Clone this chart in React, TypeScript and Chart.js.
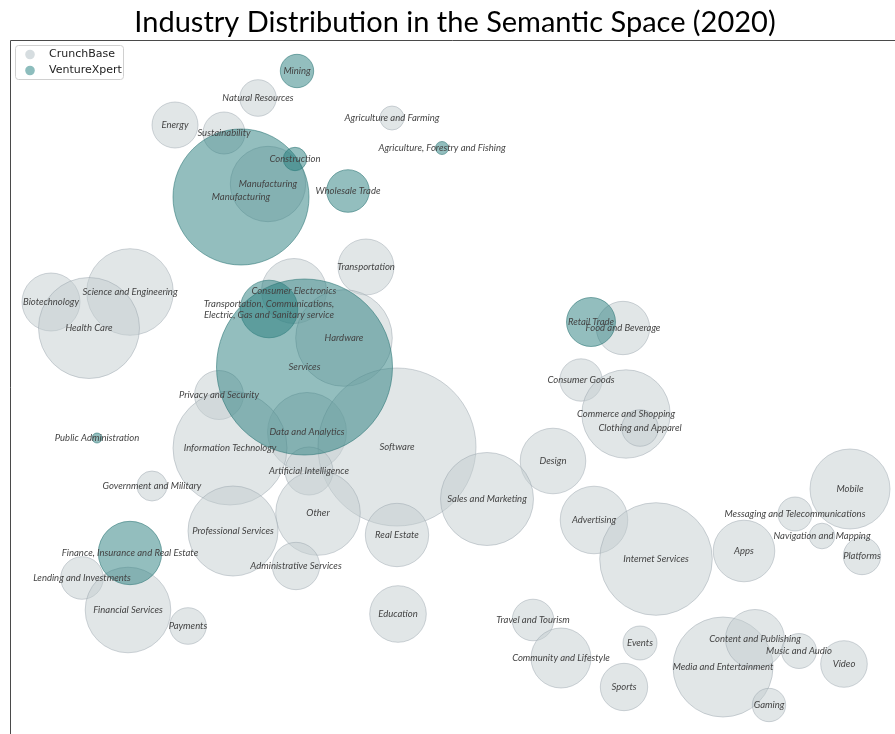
import React, { useEffect, useRef } from "react";
import { Chart, registerables } from "chart.js";

Chart.register(...registerables);

const TITLE = "Industry Distribution in the Semantic Space (2020)";
const SERIES = ["CrunchBase", "VentureXpert"];

// CrunchBase industries (semantic-space coordinates, bubble radius)
const cbNames = [
  "Natural Resources", "Energy", "Sustainability", "Agriculture and Farming", "Manufacturing",
  "Transportation", "Biotechnology", "Science and Engineering", "Health Care", "Consumer Electronics",
  "Hardware", "Privacy and Security", "Data and Analytics", "Software", "Information Technology",
  "Artificial Intelligence", "Government and Military", "Other", "Professional Services", "Real Estate",
  "Lending and Investments", "Administrative Services", "Financial Services", "Payments", "Education",
  "Food and Beverage", "Consumer Goods", "Commerce and Shopping", "Clothing and Apparel", "Design",
  "Mobile", "Sales and Marketing", "Advertising", "Internet Services", "Apps",
  "Messaging and Telecommunications", "Navigation and Mapping", "Platforms", "Travel and Tourism", "Community and Lifestyle",
  "Events", "Sports", "Media and Entertainment", "Content and Publishing", "Music and Audio",
  "Video", "Gaming",
];
const cbX = [
  24.8, 16.5, 21.4, 38.2, 25.8,
  35.6, 4.1, 12.0, 7.9, 28.4,
  33.4, 20.9, 29.7, 38.7, 22.0,
  29.9, 14.2, 30.8, 22.3, 38.7,
  7.2, 28.6, 11.8, 17.8, 38.8,
  61.3, 57.1, 61.6, 63.0, 54.3,
  84.0, 47.7, 58.4, 64.6, 73.4,
  78.5, 81.2, 85.2, 52.3, 55.1,
  63.0, 61.4, 71.3, 74.5, 78.9,
  83.4, 75.9,
];
const cbY = [
  63.6, 60.9, 60.1, 61.6, 55.0,
  46.7, 43.2, 44.2, 40.6, 44.3,
  39.6, 33.9, 30.2, 28.7, 28.6,
  26.3, 24.8, 22.1, 20.3, 19.9,
  15.6, 16.8, 12.4, 10.8, 12.0,
  40.6, 35.4, 32.0, 30.6, 27.3,
  24.5, 23.5, 21.4, 17.5, 18.3,
  22.0, 19.8, 17.8, 11.4, 7.6,
  9.1, 4.7, 6.7, 9.5, 8.3,
  7.0, 2.9,
];
const cbR = [
  18.3, 23, 21, 12, 37.7,
  28, 29, 43.3, 50.5, 32.5,
  48.3, 24.5, 39.5, 79, 57,
  24, 15, 42.3, 45, 31.7,
  21.3, 23.7, 42.8, 18.3, 28.3,
  26.7, 21.2, 44.2, 18.3, 32.8,
  40, 46.5, 33.8, 56.3, 30.8,
  17, 12.8, 18.7, 20.8, 30,
  17, 23.7, 50, 29.5, 17.5,
  23.3, 16.7,
];

// VentureXpert industries
const vxNames = [
  "Mining", "Agriculture, Forestry and Fishing", "Construction", "Manufacturing", "Wholesale Trade",
  "Transportation, Communications,\nElectric, Gas and Sanitary service", "Services", "Retail Trade",
  "Public Administration", "Finance, Insurance and Real Estate",
];
const vxX = [28.7, 43.2, 28.5, 23.1, 33.8, 25.9, 29.45, 58.1, 8.7, 12.0];
const vxY = [66.3, 58.6, 57.5, 53.7, 54.3, 42.5, 36.7, 41.2, 29.6, 18.1];
const vxR = [16.7, 6.5, 11.7, 68, 21.3, 28.8, 88, 24.5, 5, 31.7];

const X_MIN = 0, X_MAX = 88.5, Y_MIN = 0, Y_MAX = 69.4;

const CB_FILL = "rgba(195,205,208,0.5)";
const CB_EDGE = "rgba(150,162,170,0.45)";
const VX_FILL = "rgba(40,125,125,0.5)";
const VX_EDGE = "rgba(40,115,115,0.55)";
const CB_LEGEND = "#d6dde0";
const VX_LEGEND = "#8dbdbd";

const labelFont = "italic 9.5px Lato, 'Open Sans', sans-serif";

const decorPlugin = {
  id: "decor",
  afterDatasetsDraw(chart: any) {
    const ctx = chart.ctx;
    const area = chart.chartArea;
    ctx.save();
    ctx.beginPath();
    ctx.rect(area.left, area.top, area.right - area.left, area.bottom - area.top);
    ctx.clip();
    ctx.font = labelFont;
    ctx.fillStyle = "#444";
    ctx.textAlign = "center";
    ctx.textBaseline = "middle";
    const nameSets = [cbNames, vxNames];
    chart.data.datasets.forEach((ds: any, di: number) => {
      const meta = chart.getDatasetMeta(di);
      meta.data.forEach((el: any, i: number) => {
        const lines = String(nameSets[di][i]).split("\n");
        const lh = 11;
        lines.forEach((ln: string, li: number) => {
          ctx.fillText(ln, el.x, el.y + (li - (lines.length - 1) / 2) * lh);
        });
      });
    });
    ctx.restore();
  },
  afterDraw(chart: any) {
    const ctx = chart.ctx;
    const area = chart.chartArea;
    ctx.save();
    // frame (top and left spines)
    ctx.strokeStyle = "#4a4a4a";
    ctx.lineWidth = 1;
    ctx.beginPath();
    ctx.moveTo(area.left + 0.5, area.bottom);
    ctx.lineTo(area.left + 0.5, area.top + 0.5);
    ctx.lineTo(area.right, area.top + 0.5);
    ctx.stroke();
    // title
    ctx.fillStyle = "#000";
    ctx.font = "29px Lato, 'Open Sans', sans-serif";
    ctx.textAlign = "center";
    ctx.textBaseline = "alphabetic";
    ctx.fillText(TITLE, 455, 32);
    // legend
    const lx = 15.5, ly = 45.5, lw = 108, lh = 34;
    ctx.fillStyle = "rgba(255,255,255,0.85)";
    ctx.strokeStyle = "#d0d0d0";
    ctx.lineWidth = 1;
    ctx.beginPath();
    (ctx as any).roundRect ? (ctx as any).roundRect(lx, ly, lw, lh, 3) : ctx.rect(lx, ly, lw, lh);
    ctx.fill();
    ctx.stroke();
    const cols = [CB_LEGEND, VX_LEGEND];
    ctx.font = "11px 'DejaVu Sans', sans-serif";
    ctx.textAlign = "left";
    ctx.textBaseline = "middle";
    SERIES.forEach((s, i) => {
      const cy = 54.5 + i * 16;
      ctx.fillStyle = cols[i];
      ctx.beginPath();
      ctx.arc(30, cy, 4.8, 0, Math.PI * 2);
      ctx.fill();
      ctx.fillStyle = "#222";
      ctx.fillText(s, 49, cy);
    });
    ctx.restore();
  },
};

export default function App() {
  const ref = useRef<HTMLCanvasElement | null>(null);
  useEffect(() => {
    document.body.style.margin = "0";
    const canvas = ref.current!;
    const mk = (xs: number[], ys: number[], rs: number[]) =>
      xs.map((x, i) => ({ x, y: ys[i], r: rs[i] }));
    const chart = new Chart(canvas, {
      type: "bubble",
      data: {
        datasets: [
          {
            label: SERIES[0],
            data: mk(cbX, cbY, cbR),
            backgroundColor: CB_FILL,
            borderColor: CB_EDGE,
            borderWidth: 1,
            order: 1,
          },
          {
            label: SERIES[1],
            data: mk(vxX, vxY, vxR),
            backgroundColor: VX_FILL,
            borderColor: VX_EDGE,
            borderWidth: 1,
            order: 0,
          },
        ],
      },
      options: {
        animation: false,
        responsive: false,
        events: [],
        layout: { autoPadding: false, padding: { left: 10, top: 40, right: 0, bottom: 0 } },
        scales: {
          x: { type: "linear", display: false, min: X_MIN, max: X_MAX },
          y: { type: "linear", display: false, min: Y_MIN, max: Y_MAX },
        },
        plugins: {
          legend: { display: false },
          tooltip: { enabled: false },
          title: { display: false },
        },
      },
      plugins: [decorPlugin],
    });
    return () => chart.destroy();
  }, []);
  return <canvas ref={ref} width={895} height={734} style={{ display: "block" }} />;
}
